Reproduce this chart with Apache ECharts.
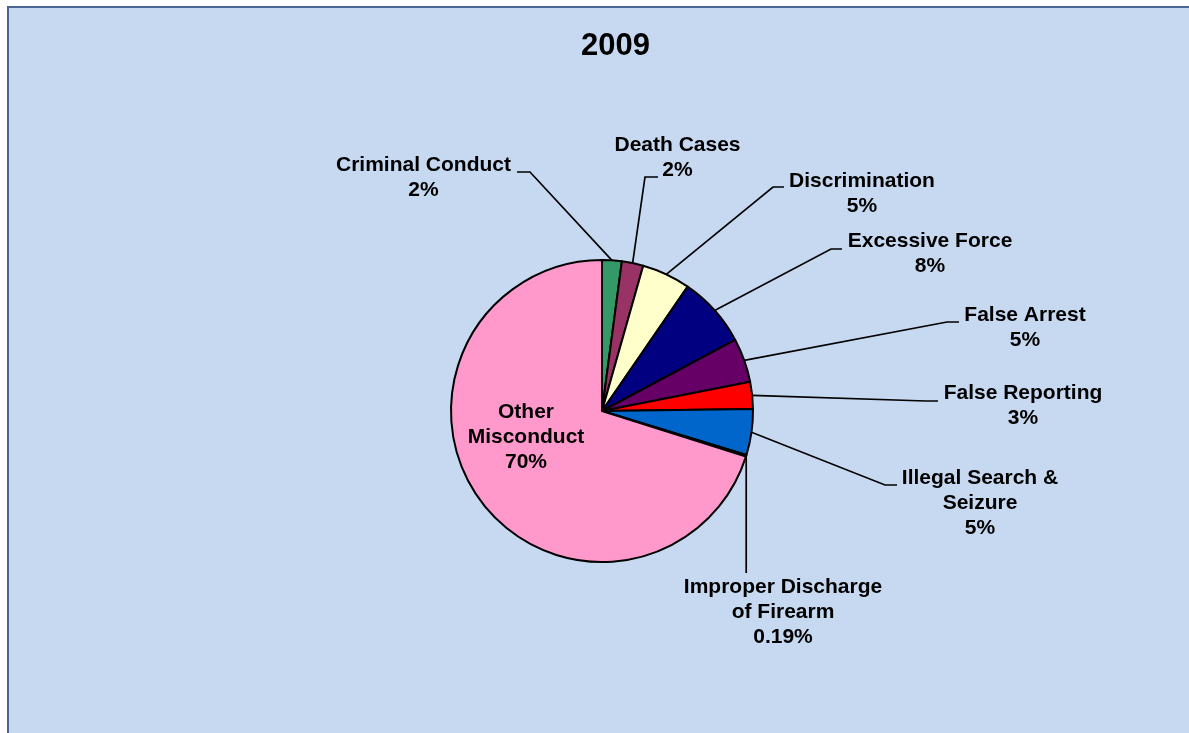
<!DOCTYPE html>
<html>
<head>
<meta charset="utf-8">
<script src="https://cdn.jsdelivr.net/npm/echarts@6/dist/echarts.min.js"></script>
<style>
  html, body { margin: 0; padding: 0; background: #ffffff; width: 1189px; height: 733px; overflow: hidden; }
  #frame { position: absolute; left: 7px; top: 6px; width: 1200px; height: 740px; background: #C6D9F0;
           border-top: 2px solid #4A6592; border-left: 2px solid #4A6592; box-sizing: border-box; }
  #chart { position: absolute; left: 0; top: 0; width: 1189px; height: 733px; }
</style>
</head>
<body>
<div id="frame"></div>
<div id="chart"></div>
<script>
// ---- data ----
const titleText = '2009';
const categories = [
  'Criminal Conduct',
  'Death Cases',
  'Discrimination',
  'Excessive Force',
  'False Arrest',
  'False Reporting',
  'Illegal Search &\nSeizure',
  'Improper Discharge\nof Firearm',
  'Other\nMisconduct'
];
const shares = [2.1, 2.3, 5.2, 7.6, 4.7, 2.9, 4.9, 0.19, 70.11];

// ---- styles / layout ----
const colors = ['#339966', '#993366', '#FFFFCC', '#000080', '#660066', '#FF0000', '#0066CC', '#CCFFFF', '#FF99CC'];
const labelCenters = [[423.5,177.5],[677.5,157.5],[862,193.5],[930,254],[1025,328],[1023,406],[980,503.5],[783,612],[526,437]];
// [endX, endY, bendX] ; null endX => vertical leader
const leaderEnds = [[517,172,530],[658,177,645],[784,187,773],[842,249,831],[959,322,947],[938,401,926],[897,485,885],[null,573,null],null];

const chart = echarts.init(document.getElementById('chart'), null, { renderer: 'canvas' });

const fontFamily = '"Liberation Sans", Arial, sans-serif';

function fmtPct(p) {
  return p < 1 ? p.toFixed(2) + '%' : Math.round(p) + '%';
}

const option = {
  backgroundColor: 'transparent',
  animation: false,
  title: {
    text: titleText,
    left: 576,
    top: 26,
    textStyle: { fontFamily, fontWeight: 'bold', fontSize: 31, color: '#000' }
  },
  series: [{
    type: 'pie',
    center: [602, 411],
    radius: 151,
    startAngle: 90,
    clockwise: true,
    avoidLabelOverlap: false,
    data: categories.map((name, i) => ({
      name,
      value: shares[i],
      itemStyle: { color: colors[i] },
      labelLine: { show: leaderEnds[i] !== null }
    })),
    itemStyle: { borderColor: '#000', borderWidth: 2 },
    label: {
      show: true,
      position: 'outside',
      formatter: p => p.name + '\n' + fmtPct(p.percent),
      fontFamily,
      fontWeight: 'bold',
      fontSize: 21,
      lineHeight: 25,
      color: '#000',
      align: 'center'
    },
    labelLine: {
      show: true,
      length: 20,
      length2: 10,
      lineStyle: { color: '#000', width: 1.7 }
    },
    emphasis: { disabled: true },
    labelLayout: function (params) {
      const i = params.dataIndex;
      const c = labelCenters[i];
      const res = { x: c[0], y: c[1], align: 'center', verticalAlign: 'middle' };
      const le = leaderEnds[i];
      if (le && params.labelLinePoints) {
        const p0 = params.labelLinePoints[0];
        if (le[0] === null) {
          res.labelLinePoints = [p0, [p0[0], le[1]], [p0[0], le[1]]];
        } else {
          res.labelLinePoints = [p0, [le[2], le[1]], [le[0], le[1]]];
        }
      }
      return res;
    }
  }]
};
chart.setOption(option);
</script>
</body>
</html>
